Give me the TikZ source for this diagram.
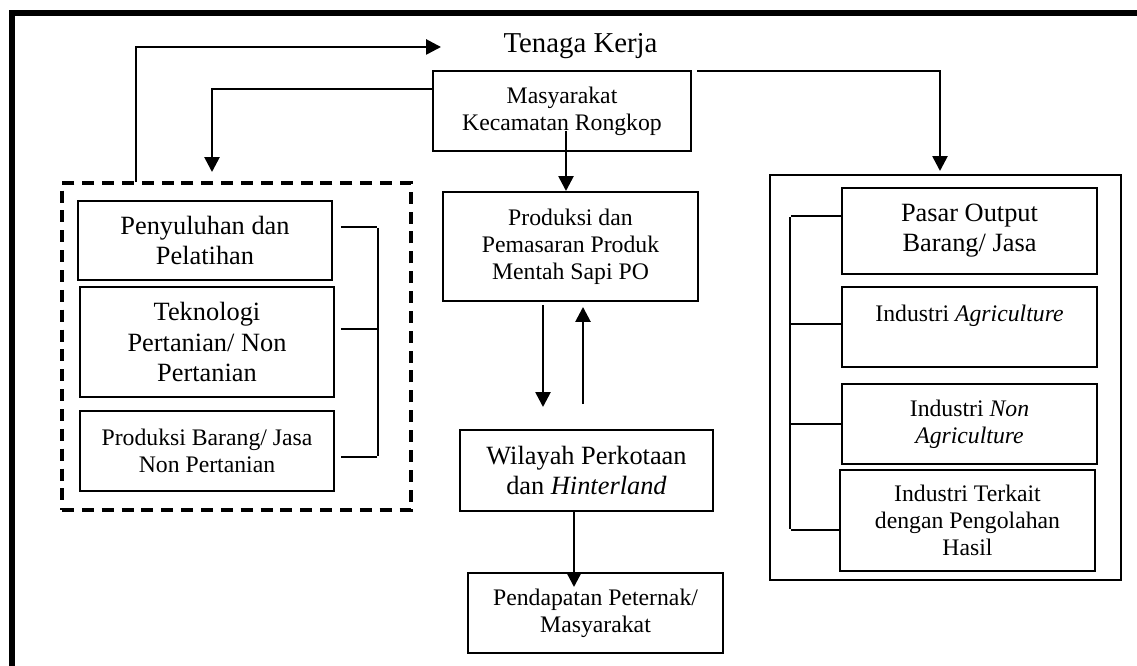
\documentclass[tikz,border=0pt]{standalone}
\usepackage{fontspec}
\setmainfont{Liberation Serif}
\usetikzlibrary{arrows.meta}
\pgfdeclarelayer{bg}
\pgfsetlayers{bg,main}
\tikzset{
    every node/.style={rectangle, inner sep=0mm, draw, line width=1.1pt, align=center,
        minimum width=5.1cm, minimum height=1.6cm}
}
\tikzset{smalltext/.style={font=\fontsize{13.5}{15.3}\selectfont}}
\tikzset{bigtext/.style={font=\fontsize{15}{17.2}\selectfont}}
\tikzset{titik/.style={draw=none, fill=none, minimum size=0mm}}
\tikzset{arr/.style={line width=1.5pt, ->}}

\begin{document}
\begin{tikzpicture}[>={Triangle[length=0.3cm, width=0.3cm]}]
    \useasboundingbox (0cm, 0cm) rectangle (22.74cm, 13.32cm);

    \begin{pgfonlayer}{bg}
        \draw[line width=3.4pt] (0.24cm, -0.3cm) -- (0.24cm, 13.06cm) -- (23.0cm, 13.06cm);
    \end{pgfonlayer}

    \node (tk) at (11.61cm, 12.26cm) [draw=none, minimum size=0mm, anchor=base,
        font=\fontsize{16.4}{19}\selectfont] {Tenaga Kerja};

    \node (masy) at (11.24cm, 11.10cm) [smalltext, minimum width=5.16cm] {Masyarakat\\Kecamatan Rongkop};
    \node (prod) at (11.41cm, 8.39cm) [smalltext, minimum height=2.18cm] {Produksi dan\\Pemasaran Produk\\Mentah Sapi PO};
    \node (wil) at (11.73cm, 3.91cm) [bigtext, minimum width=5.06cm, minimum height=1.62cm] {Wilayah Perkotaan\\dan \textit{Hinterland}};
    \node (pend) at (11.91cm, 1.06cm) [smalltext] {Pendapatan Peternak/\\Masyarakat};

    % kiri
    \node (kiri) at (4.73cm, 6.39cm) [dash pattern=on 6.8pt off 4.5pt, line width=1.8pt,
        minimum width=6.98cm, minimum height=6.54cm] {};
    \node (peny) at (4.10cm, 8.51cm) [bigtext, minimum width=5.08cm, minimum height=1.58cm] {Penyuluhan dan\\Pelatihan};
    \node (tekno) at (4.14cm, 6.48cm) [bigtext, minimum width=5.08cm, minimum height=2.2cm] {Teknologi\\Pertanian/ Non\\Pertanian};
    \node (brg) at (4.14cm, 4.30cm) [smalltext, minimum width=5.08cm] {Produksi Barang/ Jasa\\Non Pertanian};

    \node (ka) at (6.80cm, 8.78cm) [titik] {};
    \node (kb) at (7.56cm, 8.78cm) [titik] {};
    \node (kc) at (6.80cm, 6.74cm) [titik] {};
    \node (kd) at (7.56cm, 6.74cm) [titik] {};
    \node (ke) at (6.80cm, 4.18cm) [titik] {};
    \node (kf) at (7.56cm, 4.18cm) [titik] {};
    \draw[line width=1.1pt] (ka) -- (kb) -- (kf) -- (ke);
    \draw[line width=1.1pt] (kc) edge (kd);

    % kanan
    \node (kanan) at (18.91cm, 5.77cm) [minimum width=7.02cm, minimum height=8.10cm] {};
    \node (pasar) at (19.39cm, 8.70cm) [bigtext, minimum height=1.72cm] {Pasar Output\\Barang/ Jasa};
    \node (agri) at (19.39cm, 6.78cm) [smalltext] {Industri \textit{Agriculture}\\~};
    \node (nagri) at (19.39cm, 4.84cm) [smalltext] {Industri \textit{Non}\\\textit{Agriculture}};
    \node (terkait) at (19.35cm, 2.91cm) [smalltext, minimum height=2.02cm] {Industri Terkait\\dengan Pengolahan\\Hasil};

    \node (ra) at (15.80cm, 9.00cm) [titik] {};
    \node (rb) at (15.80cm, 6.84cm) [titik] {};
    \node (rc) at (15.80cm, 4.84cm) [titik] {};
    \node (rd) at (15.80cm, 2.72cm) [titik] {};
    \draw[line width=1.1pt] (ra -| pasar.west) -- (ra) -- (rd) -- (rd -| terkait.west);
    \draw[line width=1.1pt] (rb) edge (rb -| agri.west);
    \draw[line width=1.1pt] (rc) edge (rc -| nagri.west);

    % panah
    \node (tka) at (2.72cm, 9.66cm) [titik] {};
    \node (tkb) at (8.84cm, 12.38cm) [titik] {};
    \draw[arr] (tka) |- (tkb);

    \node (mka) at (8.66cm, 11.54cm) [titik] {};
    \node (mkb) at (4.24cm, 9.86cm) [titik] {};
    \draw[arr] (mka) -| (mkb);

    \node (mra) at (13.92cm, 11.90cm) [titik] {};
    \node (mrb) at (18.80cm, 9.88cm) [titik] {};
    \draw[arr] (mra) -| (mrb);

    \node (mp) at (11.32cm, 10.72cm) [titik] {};
    \draw[arr] (mp) -- (mp |- prod.north);

    \node (pa) at (10.86cm, 7.24cm) [titik] {};
    \node (pb) at (10.86cm, 5.16cm) [titik] {};
    \node (pc) at (11.66cm, 5.22cm) [titik] {};
    \node (pd) at (11.66cm, 7.20cm) [titik] {};
    \draw (pa) edge[arr] (pb);
    \draw (pc) edge[arr] (pd);

    \node (wp) at (11.48cm, 1.56cm) [titik] {};
    \draw[arr] (wp |- wil.south) -- (wp);
\end{tikzpicture}
\end{document}
